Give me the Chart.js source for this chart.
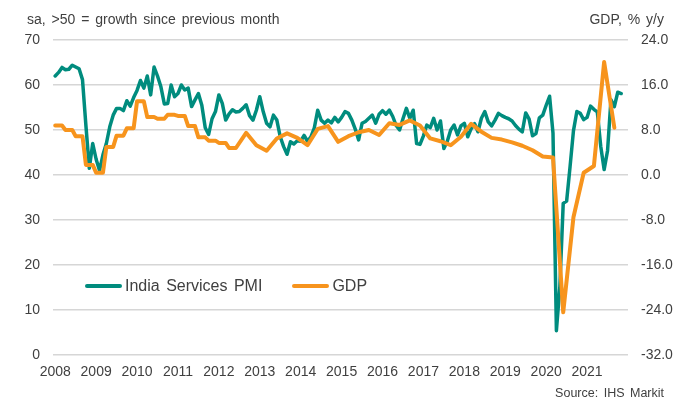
<!DOCTYPE html>
<html>
<head>
<meta charset="utf-8">
<title>India Services PMI and GDP</title>
<script src="https://cdn.jsdelivr.net/npm/chart.js@4.4.1/dist/chart.umd.min.js"></script>
<style>
  html, body { margin: 0; padding: 0; background: #fff; }
  #wrap { position: relative; width: 690px; height: 401px; font-family: "Liberation Sans", Arial, sans-serif; color: #404040; }
  #chart { position: absolute; left: 0; top: 0; }
  .note { position: absolute; font-size: 14px; line-height: 1; white-space: nowrap; word-spacing: 2px; }
  #leftTitle { left: 27px; top: 12px; }
  #rightTitle { right: 26px; top: 12px; }
  #source { right: 26px; top: 387px; font-size: 12.5px; }
  #legend { position: absolute; left: 85px; top: 277px; display: flex; align-items: center; font-size: 16px; line-height: 18px; word-spacing: 2px; white-space: nowrap; }
  #legend .item { display: flex; align-items: center; margin-right: 30px; }
  #legend .swatch { width: 37px; height: 4px; border-radius: 2px; margin-right: 3px; }
</style>
</head>
<body>
<div id="wrap">
  <canvas id="chart" width="690" height="401"></canvas>
  <div class="note" id="leftTitle">sa, &gt;50 = growth since previous month</div>
  <div class="note" id="rightTitle">GDP, % y/y</div>
  <div class="note" id="source">Source: IHS Markit</div>
  <div id="legend"></div>
</div>
<script>
// Year labels on the x axis, one per January starting 2008
const yearLabels = ['2008', '2009', '2010', '2011', '2012', '2013', '2014',
  '2015', '2016', '2017', '2018', '2019', '2020', '2021'];

// India Services PMI, monthly, Jan 2008 - Nov 2021
const pmi = [
  62.0, 62.8, 63.9, 63.4, 63.5, 64.4, 64.0, 63.6, 61.2, 51.0, 41.5, 47.0, // 2008
  43.5, 41.0, 44.5, 47.0, 50.7, 53.3, 54.8, 54.8, 54.3, 56.5, 55.3, 57.2, // 2009
  58.8, 61.0, 59.3, 62.0, 57.8, 64.0, 62.0, 59.6, 55.8, 55.9, 60.0, 57.4, // 2010
  58.1, 60.0, 58.9, 59.3, 55.2, 56.7, 58.1, 55.5, 50.5, 49.0, 52.5, 54.1, // 2011
  57.8, 55.9, 52.2, 53.6, 54.5, 54.0, 54.1, 54.8, 55.6, 53.2, 52.2, 54.4, // 2012
  57.4, 54.1, 51.5, 50.7, 53.3, 52.2, 48.5, 46.3, 44.6, 47.4, 46.9, 47.6, // 2013
  47.5, 48.8, 47.5, 48.5, 50.5, 54.4, 52.2, 51.5, 52.2, 51.6, 52.8, 51.8, // 2014
  52.8, 54.1, 53.7, 52.2, 50.2, 47.8, 51.5, 51.9, 52.6, 53.3, 51.5, 53.5, // 2015
  54.3, 53.5, 54.4, 53.0, 51.0, 50.0, 52.5, 54.8, 52.6, 54.4, 47.0, 46.8, // 2016
  48.7, 51.1, 50.5, 52.6, 50.0, 52.0, 45.9, 47.5, 50.0, 51.1, 48.9, 50.9, // 2017
  51.5, 48.5, 50.3, 51.4, 49.6, 52.6, 54.1, 51.8, 50.9, 52.2, 53.7, 53.2, // 2018
  52.8, 52.5, 52.0, 51.0, 50.2, 49.6, 53.8, 52.4, 48.7, 49.2, 52.7, 53.3, // 2019
  55.5, 57.5, 49.3, 5.4, 15.0, 33.7, 34.2, 41.8, 49.8, 54.1, 53.7, 52.3,  // 2020
  52.8, 55.3, 54.6, 54.0, 46.4, 41.2, 45.4, 56.7, 55.2, 58.4, 58.1        // 2021
];

// Real GDP, % y/y, quarterly, 2008 Q1 - 2021 Q3
const gdp = [
  8.8, 8.0, 6.9, 1.8,     // 2008
  0.4, 5.0, 7.0, 8.3,     // 2009
  13.1, 10.3, 10.0, 10.7, // 2010
  10.5, 8.7, 6.7, 6.1,    // 2011
  5.7, 4.8, 7.5, 5.3,     // 2012
  4.3, 6.5, 7.4, 6.6,     // 2013
  5.3, 8.2, 8.7, 5.9,     // 2014
  6.9, 7.6, 8.0, 7.1,     // 2015
  9.2, 8.9, 9.7, 8.8,     // 2016
  6.5, 6.0, 5.3, 6.8,     // 2017
  9.1, 7.7, 6.6, 6.3,     // 2018
  5.8, 5.2, 4.4, 3.3,     // 2019
  3.1, -24.4, -7.5, 0.4,  // 2020
  1.6, 20.1, 8.4          // 2021
];

// older quarters are held flat across their three months, later ones sit on the quarter's last month
const gdpHeldQuarters = 18;

const seriesNames = ['India Services PMI', 'GDP'];
const seriesColors = ['#008C7E', '#F7941D'];

const pmiPoints = pmi.map((v, i) => ({ x: i, y: v }));
const gdpPoints = [];
gdp.forEach((v, q) => {
  if (q < gdpHeldQuarters) gdpPoints.push({ x: q * 3, y: v });
  gdpPoints.push({ x: q * 3 + 2, y: v });
});

const tickFont = { family: '"Liberation Sans", Arial, sans-serif', size: 14 };
const tickColor = '#404040';

new Chart(document.getElementById('chart'), {
  type: 'line',
  data: {
    datasets: [
      { label: seriesNames[0], data: pmiPoints, yAxisID: 'y', borderColor: seriesColors[0], borderWidth: 3.5, order: 1 },
      { label: seriesNames[1], data: gdpPoints, yAxisID: 'y1', borderColor: seriesColors[1], borderWidth: 4, order: 0 }
    ]
  },
  options: {
    responsive: false,
    animation: false,
    devicePixelRatio: 1,
    layout: { padding: { top: 40, left: 0, right: 0, bottom: 0 } },
    elements: {
      point: { radius: 0 },
      line: { tension: 0, borderJoinStyle: 'round', borderCapStyle: 'round', fill: false }
    },
    plugins: { legend: { display: false }, tooltip: { enabled: false } },
    scales: {
      x: {
        type: 'linear',
        min: -0.65,
        max: 168,
        afterBuildTicks: (axis) => { axis.ticks = yearLabels.map((_, i) => ({ value: i * 12 })); },
        afterFit: (axis) => { axis.height = 46; },
        grid: { display: false, drawTicks: false },
        border: { display: false },
        ticks: {
          autoSkip: false, maxRotation: 0, padding: 9, font: tickFont, color: tickColor,
          callback: (value) => yearLabels[Math.round(value / 12)] ?? ''
        }
      },
      y: {
        position: 'left',
        min: 0,
        max: 70,
        afterFit: (axis) => { axis.width = 53; },
        grid: { color: '#d6d6d6', lineWidth: 1.5, drawTicks: false },
        border: { display: false },
        ticks: { stepSize: 10, padding: 13, font: tickFont, color: tickColor }
      },
      y1: {
        position: 'right',
        min: -32,
        max: 24,
        afterFit: (axis) => { axis.width = 62; },
        grid: { display: false, drawTicks: false },
        border: { display: false },
        ticks: { stepSize: 8, padding: 13, font: tickFont, color: tickColor, callback: (v) => v.toFixed(1) }
      }
    }
  }
});

// legend sits inside the plot, below the lines
const legendEl = document.getElementById('legend');
seriesNames.forEach((name, i) => {
  const item = document.createElement('div');
  item.className = 'item';
  item.innerHTML = `<span class="swatch" style="background:${seriesColors[i]}"></span><span>${name}</span>`;
  legendEl.appendChild(item);
});
</script>
</body>
</html>
